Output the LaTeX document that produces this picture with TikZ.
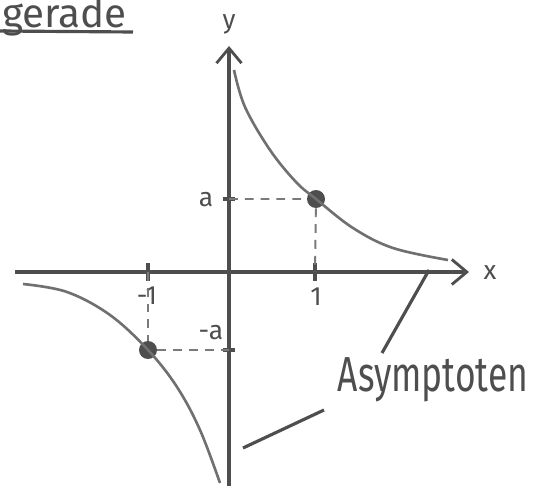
\documentclass[tikz,border=0pt]{standalone}
\usepackage{fontspec}
\setmainfont{Fira Sans}
\usetikzlibrary{arrows.meta, positioning}

\definecolor{ink}{RGB}{78,78,78}
\definecolor{graph}{RGB}{112,112,112}

\begin{document}
\begin{tikzpicture}[x=0.02cm, y=-0.02cm,
        axis/.style={draw=ink, line width=1.8pt, -{Straight Barb[length=3mm, width=5mm, line width=1.6pt]}},
        branch/.style={draw=graph, line width=1.5pt},
        helper/.style={draw=ink!75, line width=1.1pt, dash pattern=on 5pt off 4pt},
        marker/.style={draw=ink, line width=1.8pt},
        dot/.style={circle, fill=ink, inner sep=0pt, minimum size=3.6mm},
        lbl/.style={text=ink, inner sep=1pt, font=\fontsize{15}{15}\selectfont}
    ]

    % Frame of the picture
    \useasboundingbox (0,0) rectangle (544,486);

    % Axes - positioned with coordinates
    \coordinate (xstart) at (15,272);
    \coordinate (xend) at (469,272);
    \coordinate (ystart) at (229,486);
    \coordinate (yend) at (229,46);
    \draw[axis] (xstart) -- (xend);
    \draw[axis] (ystart) -- (yend);
    \node[lbl] (xlab) at (490,273) {x};
    \node[lbl] (ylab) at (229,24) {y};

    % Ticks
    \coordinate (one) at (315,272);
    \coordinate (mone) at (148,272);
    \coordinate (ya) at (229,199);
    \coordinate (yma) at (229,350);
    \draw[marker] (one) ++(0,-9) -- ++(0,18);
    \draw[marker] (mone) ++(0,-9) -- ++(0,18);
    \draw[marker] (ya) ++(-6,0) -- ++(12,0);
    \draw[marker] (yma) ++(-6,0) -- ++(12,0);
    \node[lbl] (onelab) at (316,297) {1};
    \node[lbl] (monelab) at (147,296) {-1};
    \node[lbl] (alab) at (206,200) {a};
    \node[lbl] (malab) at (211,333) {-a};

    % Points on the graph
    \node[dot] (P) at (316,199) {};
    \node[dot] (Q) at (148,350) {};
    \draw[helper] (ya) -- (P) -- (one);
    \draw[helper] (mone) -- (Q) -- (yma);

    % Branches of the hyperbola
    \draw[branch] plot[smooth, tension=0.6] coordinates {(234,70) (245,107) (270,150) (296,182) (316,199) (353,228) (393,248) (448,260)};
    \draw[branch] plot[smooth, tension=0.6] coordinates {(23,284) (67,292) (110,315) (148,350) (177,387) (200,430) (220,483)};

    % Asymptotes - label with leader lines
    \node[lbl, font=\fontsize{28}{28}\selectfont] (asym) at (433,380) {\scalebox{0.72}[1]{Asymptoten}};
    \coordinate (lead1) at (382,353);
    \coordinate (onx) at (429,270);
    \coordinate (lead2) at (324,410);
    \coordinate (ony) at (243,448);
    \draw[marker] (lead1) -- (onx);
    \draw[marker] (lead2) -- (ony);

    % Title
    \node[lbl, anchor=north west, font=\fontsize{23}{23}\selectfont] (title) at (0,-5) {gerade};
    \coordinate (ulstart) at (0,31);
    \coordinate (ulend) at (133,32);
    \draw[marker] (ulstart) -- (ulend);

\end{tikzpicture}
\end{document}
